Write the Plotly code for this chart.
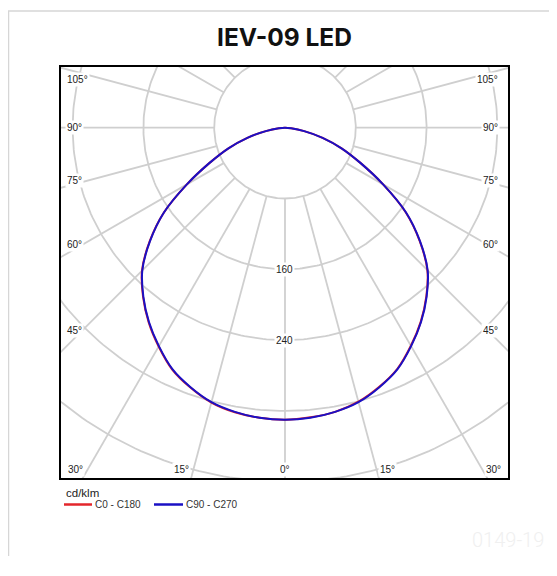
import numpy as np
import plotly.graph_objects as go

# ---------------- data ----------------
title_text = "IEV-09 LED"
unit_label = "cd/klm"
watermark_text = "0149-19"

gamma_deg = [0, 5, 10, 15, 20, 25, 30, 35, 40, 45, 50, 55, 60, 65, 70, 75, 80, 85, 90]

series_names = ["C0 - C180", "C90 - C270"]
# C0 - C180 (left half = C180, right half = C0)
c0_c180_left = [330, 329, 326.5, 321.5, 312.5, 301.5, 285.5, 268.5, 249.5, 228.5, 199.5, 167, 128, 94, 68, 44, 22, 7, 0]
c0_c180_right = [330, 328.5, 326, 320.5, 311.5, 300.5, 284.5, 267.5, 248.5, 227.5, 198.5, 166.5, 128, 94, 68, 44, 22, 7, 0]
# C90 - C270 (left half = C270, right half = C90)
c90_c270_left = [330, 329, 326, 321, 312, 301, 285, 268, 249, 228, 199, 167, 128, 94, 68, 44, 22, 7, 0]
c90_c270_right = [330, 329, 326, 321, 312, 301, 285, 268, 249, 228, 199, 167, 128, 94, 68, 44, 22, 7, 0]

ring_values = [80, 160, 240, 320, 400, 480]
ring_label_values = [160, 240]
spoke_angles = [0, 15, 30, 45, 60, 75, 90, 105, 120, 135, 150, 165, 180]
side_label_angles = [105, 90, 75, 60, 45]
bottom_label_angles = [0, 15, 30]

# ---------------- styles / layout ----------------
series_colors = ["#e3262b", "#1a10c4"]
grid_color = "#cfcfcf"
small_font = "Liberation Sans, Arial, sans-serif"
label_font = dict(family=small_font, size=10, color="#222222")
W, H = 549, 548           # page has an 8px body margin; keep the page free of scrollbars
ml, mr, mt, mb = 53, 49, 59, 78
x_range = [-253.1, 252.0]
y_range = [-395.8, 68.6]
side_label_y = [55, 0, -60.2, -132.5, -228.6]   # label placement along the box sides
side_label_x = 248.6
bottom_label_y = -386

plot_w = W - ml - mr
plot_h = H - mt - mb


def px_to_paper_x(px):
    return (px - ml) / plot_w


def px_to_paper_y(py):
    return (H - mb - py) / plot_h


def polar_to_xy(gammas, values, side):
    g = np.radians(np.asarray(gammas, dtype=float))
    r = np.asarray(values, dtype=float)
    return side * r * np.sin(g), -r * np.cos(g)


fig = go.Figure()

# circles
cx, cy = [], []
t = np.radians(np.arange(0, 361, 1))
for rv in ring_values:
    cx += list(rv * np.sin(t)) + [None]
    cy += list(-rv * np.cos(t)) + [None]
fig.add_trace(go.Scatter(x=cx, y=cy, mode="lines", line=dict(color=grid_color, width=1.8),
                         hoverinfo="skip", showlegend=False))

# spokes (from the innermost ring outward)
sx, sy = [], []
r_in, r_out = ring_values[0], 800
for a in spoke_angles:
    for side in ([1] if a in (0, 180) else [-1, 1]):
        x0, y0 = polar_to_xy([a, a], [r_in, r_out], side)
        sx += list(x0) + [None]
        sy += list(y0) + [None]
fig.add_trace(go.Scatter(x=sx, y=sy, mode="lines", line=dict(color=grid_color, width=1.8),
                         hoverinfo="skip", showlegend=False))

# photometric curves
for name, left, right, col in [
    (series_names[0], c0_c180_left, c0_c180_right, series_colors[0]),
    (series_names[1], c90_c270_left, c90_c270_right, series_colors[1]),
]:
    xl, yl = polar_to_xy(gamma_deg, left, -1)
    xr, yr = polar_to_xy(gamma_deg, right, 1)
    xs = list(xl[::-1]) + list(xr[1:])
    ys = list(yl[::-1]) + list(yr[1:])
    fig.add_trace(go.Scatter(x=xs, y=ys, mode="lines", name=name, showlegend=False,
                             line=dict(color=col, width=2, shape="spline", smoothing=0.8)))

annotations = []
# ring value labels
for rv in ring_label_values:
    annotations.append(dict(x=0, y=-rv, text=str(rv), showarrow=False, font=label_font,
                            bgcolor="white", borderpad=1, xanchor="center", yanchor="middle"))
# side angle labels
for a, yy in zip(side_label_angles, side_label_y):
    annotations.append(dict(x=-side_label_x, y=yy, text=f"{a}°", showarrow=False, font=label_font,
                            bgcolor="white", borderpad=1, xanchor="left", yanchor="middle"))
    annotations.append(dict(x=side_label_x - 6, y=yy, text=f"{a}°", showarrow=False, font=label_font,
                            bgcolor="white", borderpad=1, xanchor="right", yanchor="middle"))
# bottom angle labels
for a in bottom_label_angles:
    xs = -bottom_label_y * np.tan(np.radians(a))
    if a == 0:
        annotations.append(dict(x=0, y=bottom_label_y, text=f"{a}°", showarrow=False, font=label_font,
                                bgcolor="white", borderpad=1, xanchor="center", yanchor="middle"))
    else:
        annotations.append(dict(x=-xs - 3, y=bottom_label_y, text=f"{a}°", showarrow=False, font=label_font,
                                bgcolor="white", borderpad=1, xanchor="right", yanchor="middle"))
        annotations.append(dict(x=xs + 2, y=bottom_label_y, text=f"{a}°", showarrow=False, font=label_font,
                                bgcolor="white", borderpad=1, xanchor="left", yanchor="middle"))

# unit label + legend (drawn below the diagram)
annotations.append(dict(x=px_to_paper_x(56), y=px_to_paper_y(485), xref="paper", yref="paper",
                        text=unit_label, showarrow=False, xanchor="left", yanchor="middle",
                        font=dict(family=small_font, size=11.5, color="#222222")))
legend_line_x = [(56, 84), (146, 175)]
legend_y = 496.5
shapes = []
for name, col, (lx0, lx1) in zip(series_names, series_colors, legend_line_x):
    shapes.append(dict(type="line", xref="paper", yref="paper",
                       x0=px_to_paper_x(lx0), x1=px_to_paper_x(lx1),
                       y0=px_to_paper_y(legend_y), y1=px_to_paper_y(legend_y),
                       line=dict(color=col, width=2.5)))
    annotations.append(dict(x=px_to_paper_x(lx1 + 0.5), y=px_to_paper_y(legend_y), xref="paper", yref="paper",
                            text=name, showarrow=False, xanchor="left", yanchor="middle",
                            font=dict(family=small_font, size=10, color="#333333")))

# watermark
annotations.append(dict(x=px_to_paper_x(500), y=px_to_paper_y(532), xref="paper", yref="paper",
                        text=watermark_text, showarrow=False, xanchor="center", yanchor="middle",
                        font=dict(family="Roboto", size=20, color="#f0f0f0", weight=300)))

# outer card frame (top edge and left edge)
shapes += [
    dict(type="line", xref="paper", yref="paper",
         x0=px_to_paper_x(0), x1=px_to_paper_x(W + 5), y0=px_to_paper_y(3), y1=px_to_paper_y(3),
         line=dict(color="#d6d6d6", width=1.5)),
    dict(type="line", xref="paper", yref="paper",
         x0=px_to_paper_x(0.5), x1=px_to_paper_x(0.5), y0=px_to_paper_y(3), y1=px_to_paper_y(H + 5),
         line=dict(color="#d6d6d6", width=1.5)),
]

fig.update_layout(
    width=W, height=H,
    margin=dict(l=ml, r=mr, t=mt, b=mb),
    paper_bgcolor="white", plot_bgcolor="white",
    title=dict(text=title_text, x=0.5, xref="paper", y=1 - 29 / H, yref="container",
               xanchor="center", yanchor="middle",
               font=dict(family="Inter", size=24.5, color="#111111", weight=700)),
    xaxis=dict(range=x_range, showgrid=False, zeroline=False, showticklabels=False, ticks="",
               showline=True, mirror=True, linecolor="black", linewidth=2, fixedrange=True),
    yaxis=dict(range=y_range, showgrid=False, zeroline=False, showticklabels=False, ticks="",
               showline=True, mirror=True, linecolor="black", linewidth=2, fixedrange=True),
    showlegend=False,
    annotations=annotations,
    shapes=shapes,
)

fig.write_html("out.html")
